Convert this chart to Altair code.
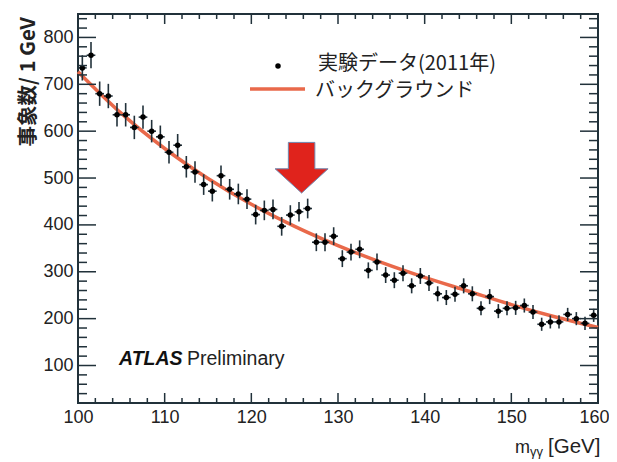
import altair as alt
import pandas as pd

# ---- data ----
mass = [100.5, 101.5, 102.5, 103.5, 104.5, 105.5, 106.5, 107.5, 108.5, 109.5,
        110.5, 111.5, 112.5, 113.5, 114.5, 115.5, 116.5, 117.5, 118.5, 119.5,
        120.5, 121.5, 122.5, 123.5, 124.5, 125.5, 126.5, 127.5, 128.5, 129.5,
        130.5, 131.5, 132.5, 133.5, 134.5, 135.5, 136.5, 137.5, 138.5, 139.5,
        140.5, 141.5, 142.5, 143.5, 144.5, 145.5, 146.5, 147.5, 148.5, 149.5,
        150.5, 151.5, 152.5, 153.5, 154.5, 155.5, 156.5, 157.5, 158.5, 159.5]
counts = [735, 762, 680, 675, 635, 635, 608, 630, 600, 588,
          555, 570, 524, 513, 486, 472, 505, 476, 466, 455,
          422, 431, 433, 397, 421, 428, 435, 363, 363, 376,
          328, 342, 348, 303, 321, 293, 282, 297, 270, 291,
          276, 253, 245, 252, 270, 253, 222, 247, 216, 222,
          223, 228, 214, 188, 193, 193, 209, 200, 190, 207]
errors = [27, 28, 26, 26, 25, 25, 25, 25, 24, 24,
          24, 24, 23, 23, 22, 22, 22, 22, 22, 21,
          21, 21, 21, 20, 21, 21, 21, 19, 19, 19,
          18, 18, 19, 17, 18, 17, 17, 17, 16, 17,
          17, 16, 16, 16, 16, 16, 15, 16, 15, 15,
          15, 15, 15, 14, 14, 14, 14, 14, 14, 14]
bkg_mass = [100, 105, 110, 115, 120, 125, 130, 135, 140, 145, 150, 155, 160]
bkg_vals = [727, 638, 563, 499, 444, 397, 356, 320, 288, 259, 230, 204, 181]
arrow_pos = {"m": [125.8], "v": [522]}

x_ticks_major = [100, 110, 120, 130, 140, 150, 160]
x_ticks_minor = [v for v in range(102, 160, 2) if v % 10]
y_ticks_major = [100, 200, 300, 400, 500, 600, 700, 800]
y_ticks_minor = [v for v in range(40, 850, 20) if v % 100]

legend_data = "実験データ(2011年)"
legend_bkg = "バックグラウンド"
y_title = "事象数/ 1 GeV"

# ---- styling ----
W, H = 520, 389
DARK = "#21313a"
ORANGE = "#e9694a"
RED = "#e0231c"
LATIN = "Liberation Sans"
CJK = "Noto Sans CJK JP"

xs = alt.Scale(domain=[100, 160], nice=False, zero=False)
ys = alt.Scale(domain=[20, 850], nice=False, zero=False)
xaxis = alt.Axis(values=x_ticks_major, ticks=False, domain=False, grid=False,
                 labelFontSize=18, labelFont=LATIN, labelColor="#222222",
                 labelPadding=5, labelFlush=False, labelOverlap=False, title=None,
                 labelOffset={"condition": {"test": "datum.value == 160", "value": -4},
                              "value": 0})
yaxis = alt.Axis(values=y_ticks_major, ticks=False, domain=False, grid=False,
                 labelFontSize=18, labelFont=LATIN, labelColor="#222222",
                 labelPadding=5, labelOverlap=False, title=None)


def X(f):
    return alt.X(f, type="quantitative", scale=xs, axis=xaxis)


def Y(f):
    return alt.Y(f, type="quantitative", scale=ys, axis=yaxis)


df = pd.DataFrame({"m": mass, "v": counts, "e": errors})
df["lo"] = df["v"] - df["e"]
df["hi"] = df["v"] + df["e"]
df["ml"] = df["m"] - 0.5
df["mh"] = df["m"] + 0.5
bkg = pd.DataFrame({"m": bkg_mass, "v": bkg_vals})
one = pd.DataFrame({"a": [0]})

layers = []
layers.append(alt.Chart(bkg).mark_line(color=ORANGE, strokeWidth=3.5,
                                        interpolate="monotone").encode(x=X("m"), y=Y("v")))
layers.append(alt.Chart(df).mark_rule(color=DARK, strokeWidth=1.6).encode(
    x=X("m"), y=Y("lo"), y2="hi"))
layers.append(alt.Chart(df).mark_rule(color=DARK, strokeWidth=1.6).encode(
    x=X("ml"), x2="mh", y=Y("v")))
layers.append(alt.Chart(df).mark_circle(size=30, color="black", opacity=1).encode(
    x=X("m"), y=Y("v")))

arrow_shape = "M-0.5,-0.955 L0.5,-0.955 L0.5,0.04 L1,0.04 L0,0.955 L-1,0.04 L-0.5,0.04 Z"
layers.append(alt.Chart(pd.DataFrame(arrow_pos)).mark_point(
    shape=arrow_shape, size=2809, filled=True, fill=RED, stroke="#7088b0",
    strokeWidth=1, opacity=1, fillOpacity=1).encode(x=X("m"), y=Y("v")))

# ticks inside the frame (ROOT style)
for vals, L in ((x_ticks_major, 10), (x_ticks_minor, 5)):
    t = pd.DataFrame({"m": vals})
    layers.append(alt.Chart(t).mark_rule(color=DARK, strokeWidth=1.5).encode(
        x=X("m"), y=alt.value(H), y2=alt.value(H - L)))
    layers.append(alt.Chart(t).mark_rule(color=DARK, strokeWidth=1.5).encode(
        x=X("m"), y=alt.value(0), y2=alt.value(L)))
for vals, L in ((y_ticks_major, 18), (y_ticks_minor, 9)):
    t = pd.DataFrame({"v": vals})
    layers.append(alt.Chart(t).mark_rule(color=DARK, strokeWidth=1.5).encode(
        y=Y("v"), x=alt.value(0), x2=alt.value(L)))
    layers.append(alt.Chart(t).mark_rule(color=DARK, strokeWidth=1.5).encode(
        y=Y("v"), x=alt.value(W), x2=alt.value(W - L)))

# legend
layers.append(alt.Chart(one).mark_circle(size=30, color="black", opacity=1).encode(
    x=alt.value(200), y=alt.value(52)))
layers.append(alt.Chart(one).mark_text(text=legend_data, align="left", baseline="middle",
                                       font=CJK, fontSize=20, color="#222222").encode(
    x=alt.value(240), y=alt.value(50)))
layers.append(alt.Chart(one).mark_rule(color=ORANGE, strokeWidth=3.5).encode(
    x=alt.value(172), x2=alt.value(227), y=alt.value(75)))
layers.append(alt.Chart(one).mark_text(text=legend_bkg, align="left", baseline="middle",
                                       font=CJK, fontSize=20, color="#222222").encode(
    x=alt.value(237), y=alt.value(77)))

# ATLAS label
layers.append(alt.Chart(one).mark_text(text="ATLAS", align="left", baseline="middle",
                                       font=LATIN, fontSize=19.5, fontStyle="italic",
                                       fontWeight="bold", color="#111111").encode(
    x=alt.value(41), y=alt.value(345)))
layers.append(alt.Chart(one).mark_text(text="Preliminary", align="left", baseline="middle",
                                       font=LATIN, fontSize=19.5, color="#222222").encode(
    x=alt.value(109), y=alt.value(345)))

# axis titles
layers.append(alt.Chart(one).mark_text(text="m", align="left", baseline="alphabetic",
                                       font=LATIN, fontSize=18, color="#222222").encode(
    x=alt.value(437), y=alt.value(439)))
layers.append(alt.Chart(one).mark_text(text="γγ", align="left", baseline="alphabetic",
                                       font=LATIN, fontSize=13, color="#222222").encode(
    x=alt.value(452), y=alt.value(442)))
layers.append(alt.Chart(one).mark_text(text="[GeV]", align="left", baseline="alphabetic",
                                       font=LATIN, fontSize=20.5, color="#222222").encode(
    x=alt.value(470), y=alt.value(439)))
layers.append(alt.Chart(one).mark_text(text=y_title, align="right", baseline="middle",
                                       angle=270, font=CJK, fontSize=20.5, fontWeight="bold",
                                       color="#222222").encode(
    x=alt.value(-49), y=alt.value(3)))

chart = alt.layer(*layers).properties(
    width=W, height=H,
    autosize=alt.AutoSizeParams(type="none"),
    padding={"left": 70, "top": 6, "right": 11, "bottom": 59},
    background="white",
).configure_view(stroke=DARK, strokeWidth=2)

chart.save("out.html", embed_options={"renderer": "svg", "actions": False})
